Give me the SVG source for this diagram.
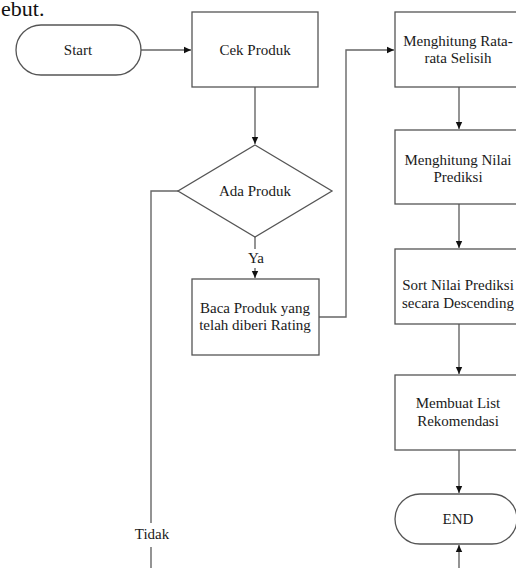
<svg xmlns="http://www.w3.org/2000/svg" width="516" height="568" viewBox="0 0 516 568">
<defs>
<marker id="ah" markerWidth="8" markerHeight="8" refX="7" refY="4" orient="auto" markerUnits="userSpaceOnUse">
<path d="M0,0.8 L7,4 L0,7.2 Z" fill="#111"/>
</marker>
<style>
.sh{fill:#fff;stroke:#555;stroke-width:1.3}
.t{font-family:"Liberation Serif","Times New Roman",serif;font-size:15px;fill:#1a1a1a;text-anchor:middle}
.big{font-family:"Liberation Serif","Times New Roman",serif;font-size:22px;fill:#111}
.c{fill:none;stroke:#666;stroke-width:1.4}
</style>
</defs>
<rect width="516" height="568" fill="#fff"/>
<text class="big" x="1" y="16">ebut.</text>
<g id="connectors">
<path class="c" d="M141,50 H191" marker-end="url(#ah)"/>
<path class="c" d="M255,87 V144" marker-end="url(#ah)"/>
<path class="c" d="M255,237 V249"/>
<path class="c" d="M255,268 V278" marker-end="url(#ah)"/>
<path class="c" d="M319,317 H346 V50 H394" marker-end="url(#ah)"/>
<path class="c" d="M459,87 V129" marker-end="url(#ah)"/>
<path class="c" d="M459,204 V248" marker-end="url(#ah)"/>
<path class="c" d="M459,324 V374" marker-end="url(#ah)"/>
<path class="c" d="M459,450 V493" marker-end="url(#ah)"/>
<path class="c" d="M459,568 V545" marker-end="url(#ah)"/>
<path class="c" d="M178,191 H151 V523"/>
<path class="c" d="M151,547 V568"/>
<text class="t" x="256" y="263">Ya</text>
<text class="t" x="152" y="539">Tidak</text>
</g>
<g id="start">
<rect class="sh" x="16" y="25" width="125" height="50" rx="25"/>
<text class="t" x="78" y="55">Start</text>
</g>
<g id="cek">
<rect class="sh" x="192" y="12" width="126" height="75"/>
<text class="t" x="255" y="55">Cek Produk</text>
</g>
<g id="ada">
<path class="sh" d="M255,145 L332,191 L255,237 L178,191 Z"/>
<text class="t" x="255" y="196">Ada Produk</text>
</g>
<g id="baca">
<rect class="sh" x="192" y="279" width="127" height="76"/>
<text class="t" x="255" y="313">Baca Produk yang</text>
<text class="t" x="255" y="330">telah diberi Rating</text>
</g>
<g id="rata">
<rect class="sh" x="395" y="12" width="126" height="75"/>
<text class="t" x="458" y="46">Menghitung Rata-</text>
<text class="t" x="458" y="63">rata Selisih</text>
</g>
<g id="nilai">
<rect class="sh" x="395" y="130" width="126" height="74"/>
<text class="t" x="458" y="165">Menghitung Nilai</text>
<text class="t" x="458" y="182">Prediksi</text>
</g>
<g id="sort">
<rect class="sh" x="395" y="249" width="126" height="75"/>
<text class="t" x="458" y="290">Sort Nilai Prediksi</text>
<text class="t" x="458" y="308">secara Descending</text>
</g>
<g id="list">
<rect class="sh" x="395" y="375" width="126" height="75"/>
<text class="t" x="458" y="408">Membuat List</text>
<text class="t" x="458" y="426">Rekomendasi</text>
</g>
<g id="end">
<rect class="sh" x="395" y="494" width="122" height="50" rx="25"/>
<text class="t" x="458" y="524">END</text>
</g>
</svg>
